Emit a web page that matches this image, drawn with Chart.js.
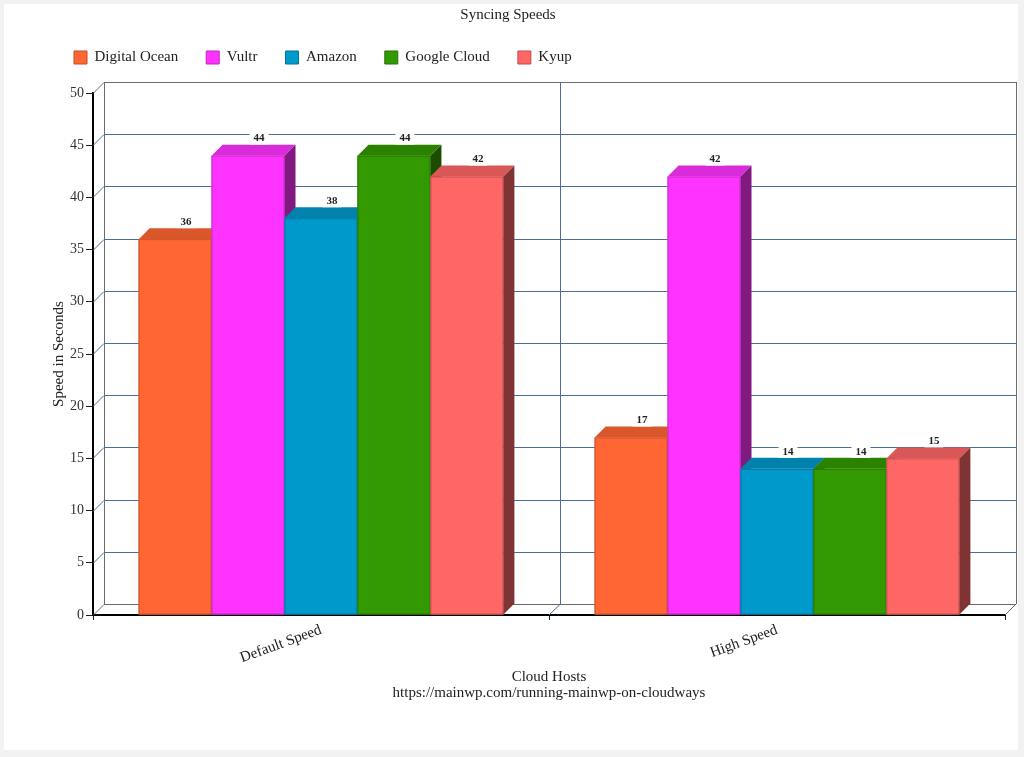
<!DOCTYPE html>
<html>
<head>
<meta charset="utf-8">
<title>Syncing Speeds</title>
<script src="https://cdn.jsdelivr.net/npm/chart.js@4.4.1/dist/chart.umd.min.js"></script>
<style>
  html, body { margin: 0; padding: 0; background: #f2f2f2; }
  #card { position: absolute; left: 4px; top: 4px; width: 1014px; height: 746px; background: #fff; }
</style>
</head>
<body>
<div id="card"><canvas id="chart" width="1014" height="746"></canvas></div>
<script>
// data
const categories = ["Default Speed", "High Speed"];
const hosts = ["Digital Ocean", "Vultr", "Amazon", "Google Cloud", "Kyup"];
const digitalOcean = [36, 17];
const vultr = [44, 42];
const amazon = [38, 14];
const googleCloud = [44, 14];
const kyup = [42, 15];
const yMin = 0, yMax = 50, yStep = 5;

const seriesValues = [digitalOcean, vultr, amazon, googleCloud, kyup];
const colors = ["#ff6633", "#ff33ff", "#0099cc", "#339900", "#ff6666"];

const FONT = "'Liberation Serif', 'Times New Roman', serif";
const DX = 11, DY = 11; // depth of the fake 3d

function shade(hex, f) {
  const n = parseInt(hex.slice(1), 16);
  const r = Math.round(((n >> 16) & 255) * f);
  const g = Math.round(((n >> 8) & 255) * f);
  const b = Math.round((n & 255) * f);
  return `rgb(${r},${g},${b})`;
}

// back wall, left wall and floor behind the bars, 3d faces on top
const wallPlugin = {
  id: "wall",
  afterLayout(chart) {
    // centre the main title on the whole card, not on the padded box
    const t = chart.titleBlock;
    if (t) {
      t.left = 0;
      t.right = chart.width - 6;
      t.width = t.right;
    }
  },
  beforeDatasetsDraw(chart) {
    const { ctx, chartArea: a, scales: { x, y } } = chart;
    ctx.save();
    ctx.lineWidth = 1;
    y.ticks.forEach(t => {
      const py = Math.round(y.getPixelForValue(t.value)) + 0.5;
      const edge = t.value === yMin || t.value === yMax;
      ctx.strokeStyle = edge ? "#6b6b6b" : "#4a6e9c";
      ctx.beginPath();
      ctx.moveTo(a.left, py);
      ctx.lineTo(a.left + DX, py - DY);
      ctx.lineTo(a.right + DX, py - DY);
      ctx.stroke();
    });
    const top = Math.round(y.getPixelForValue(yMax)) - DY;
    const bot = Math.round(y.getPixelForValue(yMin)) - DY;
    ctx.strokeStyle = "#6b6b6b";
    [a.left + DX, a.right + DX].forEach(px => {
      px = Math.round(px) + 0.5;
      ctx.beginPath();
      ctx.moveTo(px, top);
      ctx.lineTo(px, bot);
      ctx.stroke();
    });
    ctx.beginPath();
    ctx.moveTo(a.right, a.bottom);
    ctx.lineTo(a.right + DX, a.bottom - DY);
    ctx.stroke();
    for (let i = 0; i < categories.length - 1; i++) {
      const px = Math.round(x.getPixelForValue(i + 0.5));
      ctx.strokeStyle = "#4a6e9c";
      ctx.beginPath();
      ctx.moveTo(px + DX + 0.5, top);
      ctx.lineTo(px + DX + 0.5, bot);
      ctx.lineTo(px, a.bottom);
      ctx.stroke();
    }
    ctx.restore();
  },
  afterDatasetsDraw(chart) {
    const { ctx } = chart;
    const metas = chart.data.datasets.map((d, i) => chart.getDatasetMeta(i));
    ctx.save();
    for (let j = 0; j < categories.length; j++) {
      metas.forEach((meta, i) => {
        const el = meta.data[j];
        const { x, y, base, width } = el.getProps(["x", "y", "base", "width"], true);
        const l = x - width / 2, r = x + width / 2;
        const c = colors[i];
        // front
        ctx.fillStyle = c;
        ctx.fillRect(l, y, width, base - y);
        ctx.strokeStyle = shade(c, 0.8);
        ctx.lineWidth = 1;
        ctx.strokeRect(l + 0.5, y + 0.5, width - 1, base - y - 1);
        // top
        ctx.fillStyle = shade(c, 0.85);
        ctx.beginPath();
        ctx.moveTo(l, y);
        ctx.lineTo(r, y);
        ctx.lineTo(r + DX, y - DY);
        ctx.lineTo(l + DX, y - DY);
        ctx.closePath();
        ctx.fill();
        // side
        ctx.fillStyle = shade(c, 0.5);
        ctx.beginPath();
        ctx.moveTo(r, y);
        ctx.lineTo(r + DX, y - DY);
        ctx.lineTo(r + DX, base - DY);
        ctx.lineTo(r, base);
        ctx.closePath();
        ctx.fill();
      });
    }
    // value labels
    ctx.font = "bold 11px " + FONT;
    ctx.textAlign = "center";
    ctx.textBaseline = "middle";
    metas.forEach((meta, i) => {
      meta.data.forEach((el, j) => {
        const { x, y } = el.getProps(["x", "y"], true);
        const txt = String(seriesValues[i][j]);
        const w = ctx.measureText(txt).width + 8;
        const cx = x + DX, cy = y - DY - 6;
        ctx.fillStyle = "#fff";
        ctx.fillRect(cx - w / 2, cy - 6, w, 12);
        ctx.fillStyle = "#222";
        ctx.fillText(txt, cx, cy);
      });
    });
    ctx.restore();
  }
};

new Chart(document.getElementById("chart"), {
  type: "bar",
  data: {
    labels: categories,
    datasets: hosts.map((h, i) => ({
      label: h,
      data: seriesValues[i],
      backgroundColor: colors[i],
      borderColor: shade(colors[i], 0.75),
      borderWidth: 1,
      categoryPercentage: 0.8,
      barPercentage: 1.0
    }))
  },
  options: {
    responsive: false,
    animation: false,
    devicePixelRatio: 1,
    layout: { padding: { left: 42, right: 13, top: 0, bottom: 45 } },
    plugins: {
      title: {
        display: true,
        text: "Syncing Speeds",
        color: "#222",
        font: { family: FONT, size: 15, weight: "normal" },
        padding: { top: 2, bottom: -2 }
      },
      // empty spacer between the legend and the plot
      subtitle: {
        display: true,
        text: " ",
        weight: 500,
        font: { size: 1, lineHeight: 1 },
        padding: { top: 0, bottom: 17 }
      },
      legend: {
        position: "top",
        align: "start",
        labels: {
          boxWidth: 13,
          boxHeight: 13,
          padding: 28,
          color: "#222",
          font: { family: FONT, size: 15 }
        }
      },
      tooltip: { enabled: false }
    },
    scales: {
      x: {
        grid: { display: true, drawOnChartArea: false, drawTicks: true, tickLength: 5, color: "#222", offset: true },
        border: { display: true, color: "#000", width: 2 },
        ticks: { color: "#222", font: { family: FONT, size: 15 }, minRotation: 20, maxRotation: 20, padding: 1 },
        title: {
          display: true,
          text: ["Cloud Hosts", "https://mainwp.com/running-mainwp-on-cloudways"],
          color: "#222",
          font: { family: FONT, size: 15, lineHeight: 16 / 15 },
          padding: { top: 4, bottom: 4 }
        },
        afterFit(scale) { scale.height = 90; }
      },
      y: {
        min: yMin,
        max: yMax,
        ticks: { stepSize: yStep, color: "#333", font: { family: FONT, size: 14 }, padding: 2 },
        grid: { display: true, drawOnChartArea: false, drawTicks: true, tickLength: 7, color: "#222" },
        border: { display: true, color: "#000", width: 2 },
        title: {
          display: true,
          text: "Speed in Seconds",
          color: "#222",
          font: { family: FONT, size: 15 },
          padding: { top: 4, bottom: 4 }
        },
        afterFit(scale) { scale.width = 47; }
      }
    }
  },
  plugins: [wallPlugin]
});
</script>
</body>
</html>
